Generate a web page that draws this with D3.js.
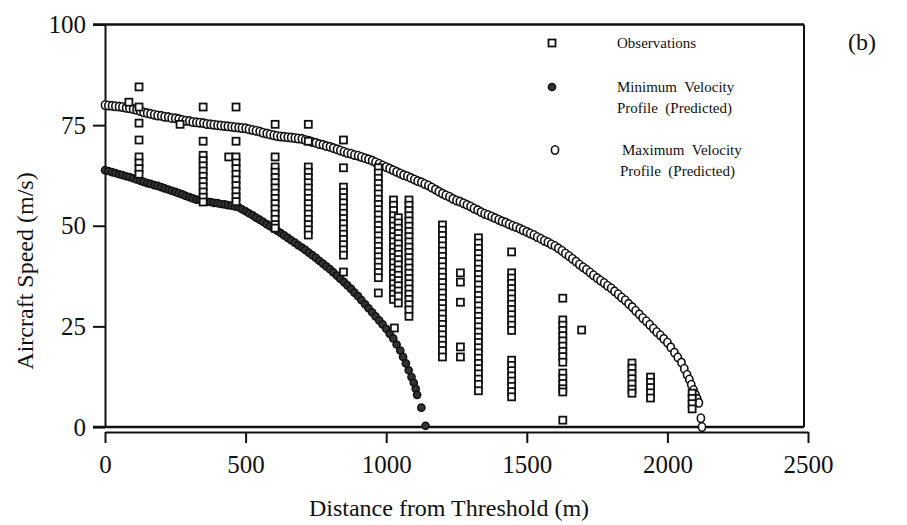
<!DOCTYPE html>
<html>
<head>
<meta charset="utf-8">
<style>
    body { margin: 0; background: #fff; }
    svg { display: block; }
    .axis text { font-family: "Liberation Serif", "Times New Roman", serif; font-size: 25px; fill: #111; }
    .axis line, .axis path { stroke: #111; stroke-width: 2; }
    .title { font-family: "Liberation Serif", "Times New Roman", serif; font-size: 24px; fill: #111; }
    .legend { font-family: "Liberation Serif", "Times New Roman", serif; font-size: 15px; fill: #111; }
</style>
</head>
<body>
<script src="https://d3js.org/d3.v7.min.js"></script>
<script>
// tick values
let xTicks = [0, 500, 1000, 1500, 2000, 2500];
let yTicks = [0, 25, 50, 75, 100];

// maximum velocity profile (predicted): distance (m), speed (m/s)
let maxDist = [0, 12, 25, 37, 50, 62, 75, 87, 100, 112, 125, 137, 150, 162, 175, 187, 200, 212, 225, 237,
    250, 262, 275, 287, 300, 312, 325, 337, 350, 362, 375, 387, 400, 412, 425, 437, 450, 462, 475, 487,
    500, 512, 525, 537, 550, 562, 575, 587, 600, 612, 625, 637, 650, 662, 675, 687, 700, 712, 725, 737,
    750, 762, 775, 787, 800, 812, 825, 837, 850, 862, 875, 887, 900, 912, 925, 937, 950, 962, 975, 987,
    1000, 1012, 1025, 1037, 1050, 1062, 1075, 1087, 1100, 1112, 1125, 1137, 1150, 1162, 1175, 1187, 1200, 1212, 1225, 1237,
    1250, 1262, 1275, 1287, 1300, 1312, 1325, 1337, 1350, 1362, 1375, 1387, 1400, 1412, 1425, 1437, 1450, 1462, 1475, 1487,
    1500, 1512, 1525, 1537, 1550, 1562, 1575, 1587, 1600, 1612, 1625, 1637, 1650, 1662, 1675, 1687, 1700, 1712, 1725, 1737,
    1750, 1762, 1775, 1787, 1800, 1812, 1825, 1837, 1850, 1862, 1875, 1887, 1900, 1912, 1925, 1937, 1950, 1962, 1975, 1987,
    2000, 2012, 2025, 2037, 2050, 2060, 2070, 2078, 2085, 2093, 2100, 2106, 2112, 2119, 2123];
let maxSpeed = [80.0, 79.9, 79.8, 79.7, 79.6, 79.5, 79.3, 79.2, 79.0, 78.8, 78.5, 78.2, 78.0, 77.8, 77.6, 77.4, 77.3, 77.1, 77.0, 76.8,
    76.7, 76.5, 76.3, 76.1, 76.0, 75.8, 75.7, 75.6, 75.5, 75.3, 75.2, 75.1, 75.0, 74.9, 74.8, 74.7, 74.6, 74.5, 74.4, 74.3,
    74.2, 74.0, 73.8, 73.6, 73.4, 73.1, 72.9, 72.7, 72.5, 72.3, 72.2, 72.1, 72.0, 71.9, 71.8, 71.7, 71.6, 71.3, 71.1, 70.8,
    70.6, 70.3, 70.1, 69.8, 69.6, 69.3, 69.0, 68.7, 68.4, 68.1, 67.9, 67.6, 67.4, 67.1, 66.8, 66.5, 66.2, 65.8, 65.4, 65.0,
    64.6, 64.2, 63.8, 63.4, 63.0, 62.6, 62.3, 61.9, 61.5, 61.1, 60.8, 60.4, 60.0, 59.5, 59.0, 58.5, 58.0, 57.6, 57.2, 56.7,
    56.3, 56.0, 55.6, 55.2, 54.8, 54.3, 53.9, 53.4, 53.0, 52.7, 52.3, 51.9, 51.5, 51.1, 50.8, 50.4, 50.0, 49.7, 49.3, 48.9,
    48.5, 48.1, 47.7, 47.2, 46.8, 46.3, 45.9, 45.4, 45.0, 44.4, 43.8, 43.1, 42.5, 41.8, 41.1, 40.4, 39.7, 39.1, 38.4, 37.7,
    37.0, 36.4, 35.8, 35.1, 34.5, 33.7, 33.0, 32.2, 31.5, 30.6, 29.8, 28.9, 28.0, 27.1, 26.3, 25.4, 24.5, 23.6, 22.8, 21.9,
    21.0, 19.8, 18.5, 17.3, 16.0, 14.5, 13.0, 11.8, 10.5, 9.2, 8.0, 7.0, 6.0, 2.2, 0.0];

// minimum velocity profile (predicted)
let minDist = [0, 12, 25, 37, 50, 62, 75, 87, 100, 112, 125, 137, 150, 162, 175, 187, 200, 212, 225, 237,
    250, 262, 275, 287, 300, 312, 325, 337, 350, 362, 375, 387, 400, 412, 425, 437, 450, 462, 475, 487,
    500, 512, 525, 537, 550, 562, 575, 587, 600, 612, 625, 637, 650, 662, 675, 687, 700, 712, 725, 737,
    750, 762, 775, 787, 800, 812, 825, 837, 850, 862, 875, 887, 900, 912, 925, 937, 950, 962, 975, 987,
    1000, 1012, 1025, 1037, 1050, 1060, 1070, 1080, 1090, 1098, 1105, 1110, 1125, 1140];
let minSpeed = [63.8, 63.6, 63.3, 63.1, 62.8, 62.6, 62.3, 62.1, 61.8, 61.5, 61.2, 60.9, 60.6, 60.4, 60.1, 59.9, 59.6, 59.3, 59.0, 58.7,
    58.4, 58.1, 57.8, 57.4, 57.1, 56.8, 56.5, 56.4, 56.2, 56.0, 55.9, 55.7, 55.6, 55.4, 55.3, 55.1, 55.0, 54.8, 54.6, 54.1,
    53.6, 53.1, 52.6, 52.0, 51.5, 51.0, 50.4, 49.9, 49.3, 48.8, 48.2, 47.6, 47.0, 46.4, 45.8, 45.2, 44.6, 44.0, 43.3, 42.7,
    42.0, 41.3, 40.6, 39.9, 39.2, 38.4, 37.6, 36.8, 36.0, 35.2, 34.3, 33.4, 32.5, 31.5, 30.5, 29.5, 28.5, 27.5, 26.5, 25.5,
    24.4, 23.2, 22.0, 20.5, 19.0, 17.4, 15.8, 14.1, 12.4, 11.0, 9.5, 8.0, 4.8, 0.3];

// observations: one distance per column, speeds observed at that distance
let obsDist = [85, 121, 267, 349, 440, 466, 605, 723, 848, 972, 1026, 1029, 1043, 1081,
    1200, 1264, 1328, 1446, 1628, 1695, 1874, 1940, 2088];
let obsSpeeds = [
    [80.7],
    [84.5, 79.5, 75.5, 71.3, 67.1, 65.6, 64.2, 62.8],
    [75.2],
    [79.5, 71.0, 67.5, 66.2, 64.9, 63.6, 62.3, 61.0, 59.7, 58.4, 57.1, 55.9],
    [67.1],
    [79.5, 71.0, 67.1, 65.6, 64.2, 62.8, 61.4, 60.0, 58.6, 57.2, 56.0],
    [75.2, 67.1, 64.6, 63.3, 62.0, 60.7, 59.4, 58.1, 56.8, 55.5, 54.2, 52.9, 51.6, 50.3, 49.4],
    [75.2, 71.0, 64.6, 63.3, 62.0, 60.7, 59.4, 58.1, 56.8, 55.5, 54.2, 52.9, 51.6, 50.3, 49.0, 47.7],
    [71.3, 64.4, 59.6, 58.3, 57.0, 55.7, 54.4, 53.1, 51.8, 50.5, 49.2, 47.9, 46.6, 45.3, 44.0, 42.7, 38.5],
    [64.4, 63.1, 61.8, 60.5, 59.2, 57.9, 56.6, 55.3, 54.0, 52.7, 51.4, 50.1, 48.8, 47.5, 46.2, 44.9, 43.6, 42.3, 41.0, 39.7, 38.4, 37.1, 33.3],
    [56.4, 55.1, 53.8, 52.5, 51.2, 49.9, 48.6, 47.3, 46.0, 44.7, 43.4, 42.1, 40.8, 39.5, 38.2, 36.9, 35.6, 34.3, 33.0, 31.7],
    [24.6],
    [52.0, 50.7, 49.4, 48.1, 46.8, 45.5, 44.2, 42.9, 41.6, 40.3, 39.0, 37.7, 36.4, 35.1, 33.8, 32.5, 30.8],
    [56.4, 55.1, 53.8, 52.5, 51.2, 49.9, 48.6, 47.3, 46.0, 44.7, 43.4, 42.1, 40.8, 39.5, 38.2, 36.9, 35.6, 34.3, 33.0, 31.7, 30.4, 29.1, 27.5],
    [50.2, 48.9, 47.6, 46.3, 45.0, 43.7, 42.4, 41.1, 39.8, 38.5, 37.2, 35.9, 34.6, 33.3, 32.0, 30.7, 29.4, 28.1, 26.8, 25.5, 24.2, 22.9, 21.6, 20.3, 19.0, 17.4],
    [38.3, 36.0, 31.0, 19.9, 17.4],
    [47.0, 45.7, 44.4, 43.1, 41.8, 40.5, 39.2, 37.9, 36.6, 35.3, 34.0, 32.7, 31.4, 30.1, 28.8, 27.5, 26.2, 24.9, 23.6, 22.3, 21.0, 19.7, 18.4, 17.1, 15.8, 14.5, 13.2, 11.9, 10.6, 9.0],
    [43.5, 38.3, 37.0, 35.7, 34.4, 33.1, 31.8, 30.5, 29.2, 27.9, 26.6, 25.3, 24.0, 16.6, 15.3, 14.0, 12.7, 11.4, 10.1, 8.8, 7.5],
    [32.0, 26.6, 25.3, 24.0, 22.7, 21.4, 20.1, 18.8, 17.5, 16.1, 13.4, 12.1, 10.8, 9.5, 8.7, 1.7],
    [24.1],
    [15.9, 14.6, 13.3, 12.0, 10.7, 9.4, 8.4],
    [12.4, 11.1, 9.8, 8.5, 7.2],
    [8.4, 7.1, 5.8, 4.5]
];

let width = 907;
let height = 525;

let svg = d3.select("body").append("svg")
    .attr("width", width)
    .attr("height", height);

let x = d3.scaleLinear().domain([0, 2500]).range([105, 808]);
let y = d3.scaleLinear().domain([0, 100]).range([427, 24.5]);

// frame: top, right and the zero line
let frameRight = 804;
svg.append("line").attr("x1", 93).attr("x2", frameRight).attr("y1", y(100)).attr("y2", y(100))
    .attr("stroke", "#111").attr("stroke-width", 2.5);
svg.append("line").attr("x1", frameRight).attr("x2", frameRight).attr("y1", y(100)).attr("y2", y(0))
    .attr("stroke", "#111").attr("stroke-width", 2);
svg.append("line").attr("x1", 93).attr("x2", frameRight).attr("y1", y(0)).attr("y2", y(0))
    .attr("stroke", "#111").attr("stroke-width", 2.5);

// axes
svg.append("g")
    .attr("class", "axis")
    .attr("transform", `translate(${x(0)},0)`)
    .call(d3.axisLeft(y).tickValues(yTicks).tickSize(12).tickSizeOuter(0).tickPadding(7).tickFormat(d3.format("d")));

svg.append("g")
    .attr("class", "axis")
    .attr("transform", `translate(0,${y(0) + 5})`)
    .call(d3.axisBottom(x).tickValues(xTicks).tickSize(11).tickSizeOuter(0).tickPadding(12).tickFormat(d3.format("d")));

// max velocity profile: open circles
let maxPts = maxDist.map((d, i) => ({ d: d, v: maxSpeed[i] }));
svg.append("g")
    .selectAll("ellipse")
    .data(maxPts)
    .join("ellipse")
    .attr("cx", p => x(p.d))
    .attr("cy", p => y(p.v))
    .attr("rx", 3.6)
    .attr("ry", 4.2)
    .attr("fill", "#fff")
    .attr("stroke", "#111")
    .attr("stroke-width", 1.6);

// min velocity profile: dark markers
let minPts = minDist.map((d, i) => ({ d: d, v: minSpeed[i] }));
svg.append("g")
    .selectAll("circle")
    .data(minPts)
    .join("circle")
    .attr("cx", p => x(p.d))
    .attr("cy", p => y(p.v))
    .attr("r", 3.6)
    .attr("fill", "#333")
    .attr("stroke", "#111")
    .attr("stroke-width", 1.5);

// observations: open squares
let obsPts = [];
obsDist.forEach((d, i) => obsSpeeds[i].forEach(v => obsPts.push({ d: d, v: v })));
let sq = 7;
svg.append("g")
    .selectAll("rect")
    .data(obsPts)
    .join("rect")
    .attr("x", p => x(p.d) - sq / 2)
    .attr("y", p => y(p.v) - sq / 2)
    .attr("width", sq)
    .attr("height", sq)
    .attr("fill", "#fff")
    .attr("stroke", "#111")
    .attr("stroke-width", 1.8);

// axis titles
svg.append("text")
    .attr("class", "title")
    .attr("text-anchor", "middle")
    .attr("transform", "translate(33,271) rotate(-90)")
    .text("Aircraft Speed (m/s)");

svg.append("text")
    .attr("class", "title")
    .attr("text-anchor", "middle")
    .attr("x", 449)
    .attr("y", 516)
    .text("Distance from Threshold (m)");

svg.append("text")
    .attr("class", "title")
    .attr("text-anchor", "middle")
    .attr("x", 862)
    .attr("y", 50)
    .text("(b)");

// legend
let leg = svg.append("g");
leg.append("rect").attr("x", 552 - sq / 2).attr("y", 43 - sq / 2).attr("width", sq).attr("height", sq)
    .attr("fill", "#fff").attr("stroke", "#111").attr("stroke-width", 1.8);
leg.append("circle").attr("cx", 552).attr("cy", 87).attr("r", 3.6)
    .attr("fill", "#333").attr("stroke", "#111").attr("stroke-width", 1.5);
leg.append("ellipse").attr("cx", 555).attr("cy", 150).attr("rx", 3.6).attr("ry", 4.2)
    .attr("fill", "#fff").attr("stroke", "#111").attr("stroke-width", 1.6);

let legendLines = [
    { x: 617, y: 48, t: "Observations" },
    { x: 617, y: 92, t: "Minimum  Velocity" },
    { x: 617, y: 113, t: "Profile  (Predicted)" },
    { x: 622, y: 155, t: "Maximum  Velocity" },
    { x: 620, y: 176, t: "Profile  (Predicted)" }
];
leg.selectAll("text")
    .data(legendLines)
    .join("text")
    .attr("class", "legend")
    .attr("x", d => d.x)
    .attr("y", d => d.y)
    .style("white-space", "pre")
    .text(d => d.t);
</script>
</body>
</html>
